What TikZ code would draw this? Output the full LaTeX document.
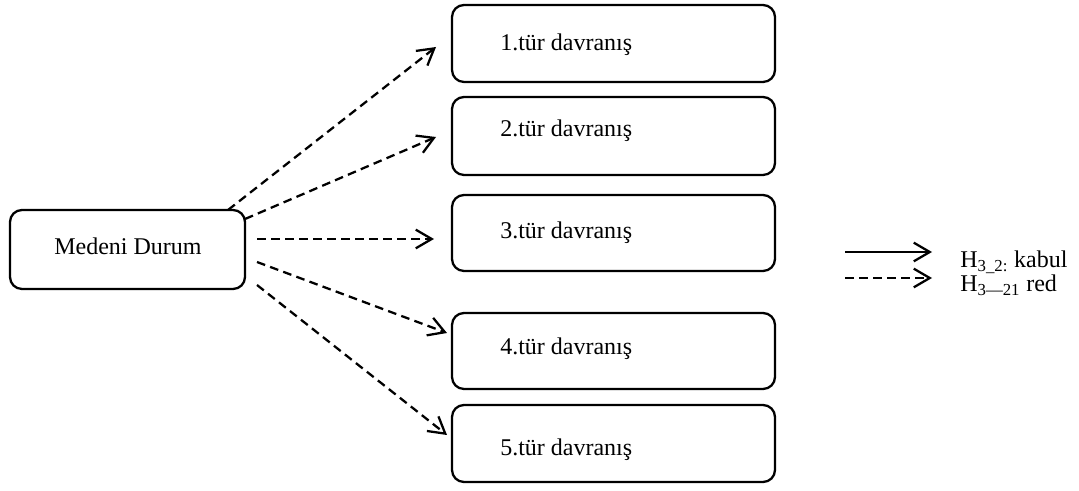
\documentclass[tikz,border=0pt]{standalone}
\usepackage{fontspec}
\setmainfont{Liberation Serif}
\usetikzlibrary{arrows.meta}
\begin{document}
\begin{tikzpicture}[x=0.75pt,y=-0.75pt,
  box/.style={draw,line width=1.7pt,rounded corners=9pt},
  lbl/.style={anchor=base west,inner sep=0pt,font=\fontsize{18}{20}\selectfont},
  tip/.style={-{Straight Barb[length=12pt,width=14pt,line width=1.7pt]}},
  conn/.style={line width=1.7pt,dash pattern=on 6.5pt off 4pt,tip},
  solidconn/.style={line width=1.7pt,tip}]
\useasboundingbox (0,0) rectangle (1079,491);
% source box
\node[box,minimum width=235*0.75pt,minimum height=79*0.75pt] (md) at (127.5,249.5) {};
\node[lbl,anchor=base] (mdt) at (128,255) {Medeni Durum};
% target boxes
\node[box,minimum width=323*0.75pt,minimum height=77*0.75pt] (b1) at (613.5,43.5) {};
\node[box,minimum width=323*0.75pt,minimum height=78*0.75pt] (b2) at (613.5,136) {};
\node[box,minimum width=323*0.75pt,minimum height=76*0.75pt] (b3) at (613.5,233) {};
\node[box,minimum width=323*0.75pt,minimum height=76*0.75pt] (b4) at (613.5,351) {};
\node[box,minimum width=323*0.75pt,minimum height=77*0.75pt] (b5) at (613.5,443.5) {};
\node[lbl] (t1) at (500,51) {1.tür davranış};
\node[lbl] (t2) at (500,137) {2.tür davranış};
\node[lbl] (t3) at (500,239) {3.tür davranış};
\node[lbl] (t4) at (500,355) {4.tür davranış};
\node[lbl] (t5) at (500,456) {5.tür davranış};
% connector endpoints
\coordinate (s1) at (228,210);
\coordinate (s2) at (245,219);
\coordinate (s3) at (257,239);
\coordinate (s4) at (257,262);
\coordinate (s5) at (257,285);
\coordinate (e1) at (436,47);
\coordinate (e2) at (436,137);
\coordinate (e3) at (434,239);
\coordinate (e4) at (447,333);
\coordinate (e5) at (447,435);
\draw[conn] (s1) -- (e1);
\draw[conn] (s2) -- (e2);
\draw[conn] (s3) -- (e3);
\draw[conn] (s4) -- (e4);
\draw[conn] (s5) -- (e5);
% legend
\coordinate (la1) at (845,252);
\coordinate (lb1) at (932,252);
\coordinate (la2) at (845,278);
\coordinate (lb2) at (932,278);
\draw[solidconn] (la1) -- (lb1);
\draw[conn] (la2) -- (lb2);
\node[lbl] (l1) at (960,268) {H\textsubscript{3\_2:} kabul};
\node[lbl] (l2) at (960,292) {H\textsubscript{3---21} red};
\end{tikzpicture}
\end{document}
